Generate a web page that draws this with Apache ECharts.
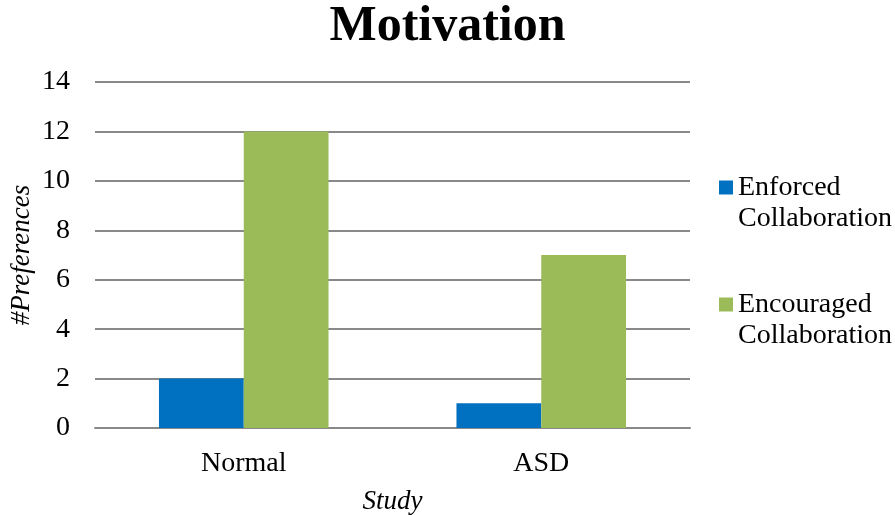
<!DOCTYPE html>
<html>
<head>
<meta charset="utf-8">
<script src="https://cdn.jsdelivr.net/npm/echarts@6/dist/echarts.min.js"></script>
<style>
  html, body { margin: 0; padding: 0; background: #fff; }
  #chart { width: 895px; height: 515px; }
</style>
</head>
<body>
<div id="chart"></div>
<script>
// Study groups and preference counts per collaboration style
const categories = ['Normal', 'ASD'];
const enforced = [2, 1];
const encouraged = [12, 7];
const seriesNames = ['Enforced\nCollaboration', 'Encouraged\nCollaboration'];
const yTicks = { min: 0, max: 14, interval: 2 };

const FONT = 'Liberation Serif';
const LEGEND_LH = 31;

const chart = echarts.init(document.getElementById('chart'));
chart.setOption({
  backgroundColor: '#ffffff',
  animation: false,
  title: {
    text: 'Motivation',
    left: 'center',
    top: -3,
    textStyle: { fontFamily: FONT, fontWeight: 'bold', fontSize: 50, color: '#000' }
  },
  legend: {
    orient: 'vertical',
    left: 719,
    top: 141,
    padding: 0,
    itemWidth: 14,
    itemHeight: 14,
    itemGap: 24,
    icon: 'rect',
    // leading blank line keeps the swatch level with the first text line
    formatter: name => '\n' + name,
    textStyle: {
      fontFamily: FONT,
      fontSize: 28,
      color: '#000',
      lineHeight: LEGEND_LH
    },
    data: seriesNames
  },
  grid: {
    left: 95, right: 205, top: 82, bottom: 87,
    containLabel: false,
    outerBoundsMode: 'none'
  },
  xAxis: {
    type: 'category',
    data: categories,
    name: 'Study',
    nameLocation: 'middle',
    nameGap: 60,
    nameMoveOverlap: false,
    nameTextStyle: { fontFamily: FONT, fontStyle: 'italic', fontSize: 27, color: '#000' },
    axisLine: { show: true, lineStyle: { color: '#898989', width: 2 } },
    axisTick: { show: false },
    axisLabel: { fontFamily: FONT, fontSize: 28, color: '#000', margin: 22 }
  },
  yAxis: {
    type: 'value',
    min: yTicks.min,
    max: yTicks.max,
    interval: yTicks.interval,
    name: '#Preferences',
    nameLocation: 'middle',
    nameGap: 60,
    nameMoveOverlap: false,
    nameTextStyle: { fontFamily: FONT, fontStyle: 'italic', fontSize: 27, color: '#000' },
    axisLine: { show: false },
    axisTick: { show: false },
    axisLabel: { fontFamily: FONT, fontSize: 28, color: '#000', margin: 25 },
    splitLine: { show: true, lineStyle: { color: '#898989', width: 2 } }
  },
  series: [
    {
      name: seriesNames[0],
      type: 'bar',
      data: enforced,
      barGap: '0%',
      barCategoryGap: '43%',
      itemStyle: { color: '#0070C0' }
    },
    {
      name: seriesNames[1],
      type: 'bar',
      data: encouraged,
      barGap: '0%',
      barCategoryGap: '43%',
      itemStyle: { color: '#9BBB59' }
    }
  ]
});
</script>
</body>
</html>
